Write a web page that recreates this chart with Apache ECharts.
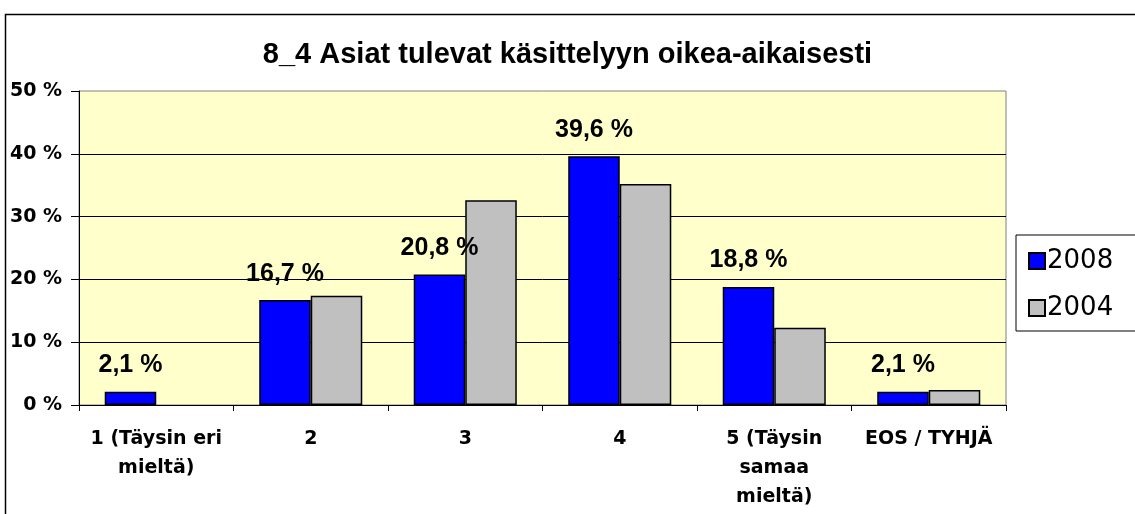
<!DOCTYPE html>
<html>
<head>
<meta charset="utf-8">
<script src="https://cdn.jsdelivr.net/npm/echarts@6/dist/echarts.min.js"></script>
<style>
  html, body { margin: 0; padding: 0; background: #ffffff; }
  #chart { width: 1135px; height: 514px; }
</style>
</head>
<body>
<div id="chart"></div>
<script>
// Survey answer categories (x axis)
const categories = [
  '1 (Täysin eri\nmieltä)',
  '2',
  '3',
  '4',
  '5 (Täysin\nsamaa\nmieltä)',
  'EOS / TYHJÄ'
];

// Share of answers, percent
const values2008 = [2.1, 16.7, 20.8, 39.6, 18.8, 2.1];
const values2004 = [null, 17.4, 32.6, 35.2, 12.3, 2.4];

const seriesNames = ['2008', '2004'];
const yTicks = { min: 0, max: 50, interval: 10 };

const chart = echarts.init(document.getElementById('chart'), null, { renderer: 'canvas' });

const fmtPct = v => String(v).replace('.', ',') + ' %';

chart.setOption({
  backgroundColor: '#ffffff',
  animation: false,
  title: {
    text: '8_4 Asiat tulevat käsittelyyn oikea-aikaisesti',
    left: 'center',
    top: 35,
    textStyle: {
      fontFamily: '"Liberation Sans", Arial, sans-serif',
      fontWeight: 'bold',
      fontSize: 29,
      color: '#000000'
    }
  },
  graphic: [
    {
      type: 'rect',
      left: 3,
      top: 12,
      shape: { x: 0, y: 0, width: 1140, height: 510 },
      style: { fill: 'none', stroke: '#000000', lineWidth: 1.5 },
      silent: true,
      z: 100
    }
  ],
  legend: {
    data: seriesNames,
    orient: 'vertical',
    left: 1016,
    top: 235,
    padding: [13, 24, 10, 12],
    itemGap: 21,
    itemWidth: 16,
    itemHeight: 16,
    borderColor: '#000000',
    borderWidth: 1,
    backgroundColor: '#ffffff',
    icon: 'rect',
    textStyle: {
      fontFamily: '"DejaVu Sans", sans-serif',
      fontSize: 26,
      color: '#000000',
      padding: [0, 0, 0, -3]
    }
  },
  grid: {
    left: 79,
    right: 129,
    top: 91,
    bottom: 109,
    show: true,
    backgroundColor: '#FFFFCC',
    borderColor: '#808080',
    borderWidth: 1
  },
  xAxis: {
    type: 'category',
    data: categories,
    axisLine: { show: true, lineStyle: { color: '#000000', width: 1 } },
    axisTick: { show: true, length: 6, lineStyle: { color: '#000000' } },
    axisLabel: {
      margin: 20,
      interval: 0,
      lineHeight: 29,
      fontFamily: '"DejaVu Sans", sans-serif',
      fontWeight: 'bold',
      fontSize: 19,
      color: '#000000'
    },
    splitLine: { show: false }
  },
  yAxis: {
    type: 'value',
    min: yTicks.min,
    max: yTicks.max,
    interval: yTicks.interval,
    axisLine: { show: true, lineStyle: { color: '#000000', width: 1 } },
    axisTick: { show: true, length: 8, lineStyle: { color: '#000000' } },
    axisLabel: {
      margin: 17,
      formatter: '{value} %',
      fontFamily: '"DejaVu Sans", sans-serif',
      fontWeight: 'bold',
      fontSize: 19,
      color: '#000000'
    },
    splitLine: {
      show: true,
      showMinLine: false,
      showMaxLine: false,
      lineStyle: { color: '#000000', width: 1 }
    }
  },
  series: [
    {
      name: seriesNames[0],
      type: 'bar',
      data: values2008,
      barGap: '0%',
      barCategoryGap: '33.3%',
      itemStyle: { color: '#0000FF', borderColor: '#000000', borderWidth: 1.5 },
      label: {
        show: true,
        position: 'top',
        distance: 14,
        formatter: p => fmtPct(p.value),
        fontFamily: '"Liberation Sans", Arial, sans-serif',
        fontWeight: 'bold',
        fontSize: 25,
        color: '#000000'
      }
    },
    {
      name: seriesNames[1],
      type: 'bar',
      data: values2004,
      barGap: '0%',
      barCategoryGap: '33.3%',
      itemStyle: { color: '#C0C0C0', borderColor: '#000000', borderWidth: 1.5 }
    }
  ]
});
</script>
</body>
</html>
